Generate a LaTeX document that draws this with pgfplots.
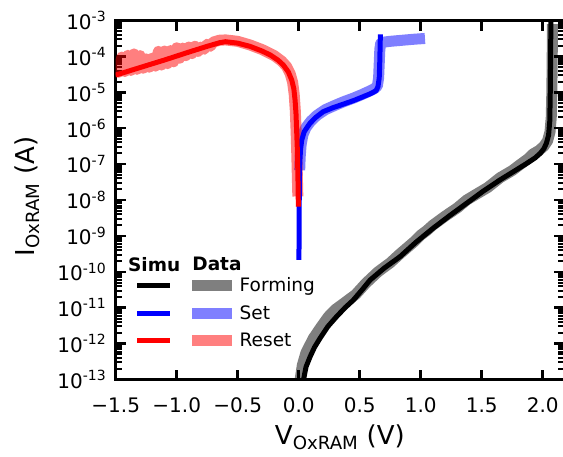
\documentclass[border=0pt]{standalone}
\usepackage{fontspec}
\setmainfont{DejaVu Sans}
\usepackage{pgfplots}
\pgfplotsset{compat=1.18}
\tikzset{bbx/.style={use as bounding box, draw=none, fill=none}}
\newcommand{\sups}[1]{\textsuperscript{#1}}
\begin{document}
\begin{tikzpicture}
\begin{axis}[
  at={(115.7pt,76.5pt)}, anchor=south west,
  scale only axis, width=448.35pt, height=359pt,
  xmin=-1.5, xmax=2.175,
  ymode=log, ymin=1e-13, ymax=1e-3,
  xtick={-1.5,-1,-0.5,0,0.5,1,1.5,2},
  xticklabels={−1.5,−1.0,−0.5,0.0,0.5,1.0,1.5,2.0},
  ytickten={-13,-12,...,-3},
  yticklabels={10\sups{-13},10\sups{-12},10\sups{-11},10\sups{-10},10\sups{-9},10\sups{-8},10\sups{-7},10\sups{-6},10\sups{-5},10\sups{-4},10\sups{-3}},
  tick label style={font=\fontsize{20}{24}\selectfont},
  xticklabel style={yshift=-15pt},
  yticklabel style={xshift=-6pt},
  label style={font=\fontsize{26}{30}\selectfont},
  xlabel={V\textsubscript{OxRAM} (V)},
  ylabel={I\textsubscript{OxRAM} (A)},
  xlabel style={at={(axis description cs:0.5,-0.18)}, anchor=base},
  ylabel style={at={(axis description cs:-0.18,0.51)}, anchor=base},
  tick align=inside,
  axis line style={line width=3pt},
  major tick length=10pt, minor tick length=6pt,
  every major tick/.style={black, line width=2.5pt},
  every minor tick/.style={black, line width=2pt},
  legend columns=2,
  legend cell align=left,
  legend style={draw=none, fill=none, inner sep=0pt,
    at={(axis description cs:0.0475,0.0816)}, anchor=south west,
    font=\fontsize{18.5}{22}\selectfont, row sep=8.2pt,
    /tikz/column 2/.style={column sep=18pt},
    /tikz/column 3/.style={column sep=5.5pt}},
  data/.style={line width=11pt, opacity=0.5, line join=round, line cap=butt},
  sim/.style={line width=5pt, line join=round, line cap=butt},
]
% ---- Data ----
\addplot[data, black, forget plot] coordinates {
(0.005,3.16e-14) (0.012,1e-13) (0.03,2.51e-13) (0.06,5.62e-13) (0.09,8.91e-13)
(0.12,1.41e-12) (0.18,2.82e-12) (0.243,5.62e-12) (0.3,8.91e-12) (0.38,1.41e-11)
(0.467,2.34e-11) (0.55,4.79e-11) (0.65,1e-10) (0.75,1.78e-10) (0.83,3.16e-10)
(0.95,7.08e-10) (1.0,1.05e-9) (1.05,1.41e-9) (1.10,2.0e-9) (1.2,3.55e-9)
(1.3,6.03e-9) (1.377,1e-8) (1.45,1.41e-8) (1.55,2.24e-8) (1.65,4.17e-8)
(1.75,6.61e-8) (1.82,1e-7) (1.88,1.41e-7) (1.92,1.91e-7) (1.97,2.4e-7)
(2.01,3.16e-7) (2.04,4.47e-7) (2.06,7.94e-7) (2.07,2.0e-6) (2.075,1e-5)
(2.078,1e-4) (2.08,7.94e-4)
};
\addplot[data, blue, forget plot] coordinates {
(0.008,6.76e-8) (0.012,1.58e-7) (0.02,3.55e-7) (0.035,6.61e-7) (0.06,1.05e-6)
(0.1,1.58e-6) (0.15,2.29e-6) (0.22,3.31e-6) (0.3,4.37e-6) (0.37,5.5e-6)
(0.45,6.92e-6) (0.52,8.71e-6) (0.585,1.10e-5) (0.62,1.26e-5) (0.645,1.51e-5)
(0.655,2.51e-5) (0.66,6.31e-5) (0.665,1.58e-4) (0.672,2.29e-4) (0.7,2.51e-4)
(0.75,2.63e-4) (0.85,2.82e-4) (0.95,3.02e-4) (1.035,3.16e-4)
};
\addplot[data, red, forget plot] coordinates {
(-1.500,8.51e-5) (-1.475,3.63e-5) (-1.450,9.55e-5) (-1.425,3.80e-5) (-1.400,1.07e-4)
(-1.375,4.07e-5) (-1.350,1.17e-4) (-1.325,4.37e-5) (-1.300,1.05e-4) (-1.275,4.68e-5)
(-1.250,8.51e-5) (-1.225,5.01e-5) (-1.200,8.91e-5) (-1.175,5.37e-5) (-1.150,1.38e-4)
(-1.125,5.75e-5) (-1.100,1.41e-4) (-1.075,6.31e-5) (-1.050,1.45e-4) (-1.025,7.08e-5)
(-1.000,1.74e-4) (-0.975,8.91e-5) (-0.950,1.70e-4) (-0.925,1.05e-4) (-0.900,1.82e-4)
(-0.875,1.20e-4) (-0.850,1.91e-4) (-0.825,1.38e-4) (-0.800,1.82e-4) (-0.775,1.58e-4)
(-0.750,2.19e-4) (-0.725,1.91e-4) (-0.700,2.51e-4) (-0.650,2.82e-4) (-0.600,2.88e-4)
(-0.5,2.63e-4) (-0.4,2.09e-4) (-0.3,1.55e-4) (-0.2,1.05e-4) (-0.14,7.41e-5)
(-0.1,5.25e-5) (-0.07,3.31e-5) (-0.05,1.91e-5) (-0.037,8.91e-6) (-0.028,3.16e-6)
(-0.021,7.94e-7) (-0.015,1.58e-7) (-0.01,3.16e-8) (-0.007,1.26e-8)
};
% ---- Simulation ----
\addplot[sim, black, forget plot] coordinates {
(0.032,5.01e-14) (0.04,1e-13) (0.06,2.24e-13) (0.093,4.27e-13) (0.13,7.94e-13)
(0.175,1.41e-12) (0.24,3.02e-12) (0.31,5.62e-12) (0.38,1e-11) (0.447,1.62e-11)
(0.52,3.16e-11) (0.585,5.89e-11) (0.7,1.26e-10) (0.83,2.63e-10) (0.96,6.61e-10)
(1.10,1.62e-9) (1.24,3.72e-9) (1.377,8.13e-9) (1.51,1.74e-8) (1.65,3.63e-8)
(1.77,6.46e-8) (1.87,1.05e-7) (1.94,1.51e-7) (1.98,2.0e-7) (2.01,2.69e-7)
(2.03,3.8e-7) (2.048,6.31e-7) (2.058,1.58e-6) (2.062,1e-5) (2.065,1e-4) (2.068,3.16e-3)
};
\addplot[sim, blue, forget plot] coordinates {
(0.002,2.14e-10) (0.003,1e-9) (0.004,6.31e-9) (0.006,3.98e-8) (0.009,1.12e-7)
(0.015,2.51e-7) (0.025,4.68e-7) (0.045,7.94e-7) (0.07,1.07e-6) (0.093,1.38e-6)
(0.14,2.0e-6) (0.2,2.88e-6) (0.28,3.72e-6) (0.366,4.68e-6) (0.45,5.89e-6)
(0.53,7.59e-6) (0.58,8.91e-6) (0.61,1e-5) (0.635,1.12e-5) (0.65,1.45e-5)
(0.66,2.51e-5) (0.665,7.94e-5) (0.668,2.51e-4) (0.67,4.12e-4)
};
\addplot[sim, red, forget plot] coordinates {
(-1.5,3.02e-5) (-1.3,4.9e-5) (-1.1,7.94e-5) (-0.9,1.32e-4) (-0.75,1.91e-4)
(-0.65,2.4e-4) (-0.6,2.57e-4) (-0.5,2.34e-4) (-0.4,1.91e-4) (-0.3,1.41e-4)
(-0.234,1.10e-4) (-0.17,7.9e-5) (-0.126,5.75e-5) (-0.085,3.7e-5) (-0.057,2.19e-5)
(-0.04,1.26e-5) (-0.03,6.2e-6) (-0.022,2.5e-6) (-0.016,7.2e-7) (-0.011,2.5e-7)
(-0.008,8.5e-8) (-0.005,2.5e-8) (-0.003,6.5e-9)
};
% ---- Legend ----
\addlegendimage{legend image code/.code={\path[bbx] (0pt,-3pt) rectangle (33pt,3pt);
  \node[inner sep=0pt,anchor=center,font=\fontsize{18.5}{22}\selectfont\bfseries] at (17pt,-0.25pt) {Simu};}}
\addlegendentry{}
\addlegendimage{legend image code/.code={\path[bbx] (0pt,-3pt) rectangle (40pt,3pt);
  \node[inner sep=0pt,anchor=west,font=\fontsize{18.5}{22}\selectfont\bfseries] at (0pt,-0.25pt) {Data};}}
\addlegendentry{}
\addlegendimage{legend image code/.code={\path[bbx] (0pt,-6pt) rectangle (33pt,6pt);
  \draw[black,line width=5pt] (0pt,0pt) -- (33pt,0pt);}}
\addlegendentry{}
\addlegendimage{legend image code/.code={\path[bbx] (0pt,-6pt) rectangle (40pt,6pt);
  \draw[black,opacity=0.5,line width=11pt] (0pt,0pt) -- (40pt,0pt);}}
\addlegendentry{Forming}
\addlegendimage{legend image code/.code={\path[bbx] (0pt,-6pt) rectangle (33pt,6pt);
  \draw[blue,line width=5pt] (0pt,0pt) -- (33pt,0pt);}}
\addlegendentry{}
\addlegendimage{legend image code/.code={\path[bbx] (0pt,-6pt) rectangle (40pt,6pt);
  \draw[blue,opacity=0.5,line width=11pt] (0pt,0pt) -- (40pt,0pt);}}
\addlegendentry{Set}
\addlegendimage{legend image code/.code={\path[bbx] (0pt,-6pt) rectangle (33pt,6pt);
  \draw[red,line width=5pt] (0pt,0pt) -- (33pt,0pt);}}
\addlegendentry{}
\addlegendimage{legend image code/.code={\path[bbx] (0pt,-6pt) rectangle (40pt,6pt);
  \draw[red,opacity=0.5,line width=11pt] (0pt,0pt) -- (40pt,0pt);}}
\addlegendentry{Reset}
\end{axis}
\pgfresetboundingbox
\path[use as bounding box] (0pt,0pt) rectangle (563pt,456pt);
\end{tikzpicture}
\end{document}
